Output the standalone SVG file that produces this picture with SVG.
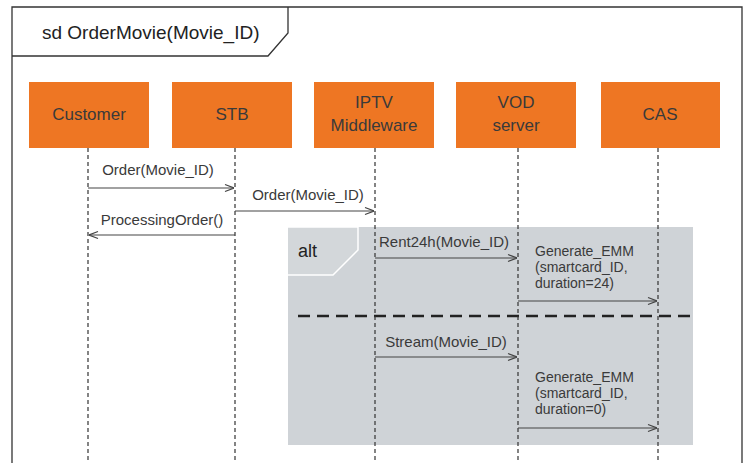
<svg xmlns="http://www.w3.org/2000/svg" width="749" height="463" viewBox="0 0 749 463">
  <defs>
    <style>
      .frame { fill: none; stroke: #333; stroke-width: 1.3; }
      .actor rect { fill: #ee7623; }
      .actor text { font-family: "Liberation Sans", Arial, sans-serif; font-size: 17px; fill: #3a3a3a; text-anchor: middle; }
      .life { stroke: #333; stroke-width: 1.2; stroke-dasharray: 4 3; fill: none; }
      .msg { stroke: #444; stroke-width: 1.2; fill: none; marker-end: url(#arrow); }
      .lbl { font-family: "Liberation Sans", Arial, sans-serif; font-size: 15px; fill: #3a3a3a; }
      .note { font-family: "Liberation Sans", Arial, sans-serif; font-size: 14px; fill: #3a3a3a; }
      .mid { text-anchor: middle; }
    </style>
    <marker id="arrow" viewBox="0 0 10 10" refX="10" refY="5" markerWidth="10" markerHeight="10" markerUnits="userSpaceOnUse" orient="auto">
      <path d="M1,1.5 L10,5 L1,8.5" fill="none" stroke="#444" stroke-width="1.2"/>
    </marker>
  </defs>

  <rect width="749" height="463" fill="#fff"/>

  <!-- sequence frame -->
  <g id="frame">
    <path class="frame" d="M12,470 L12,7 L742,7 L742,470"/>
    <path class="frame" d="M12,56 L268,56 L288,33 L288,7"/>
    <text x="42" y="39" font-family="Liberation Sans, Arial, sans-serif" font-size="19" fill="#222">sd OrderMovie(Movie_ID)</text>
  </g>

  <!-- alt fragment -->
  <g id="alt">
    <rect x="288" y="227" width="405" height="218" fill="#cfd3d7"/>
    <path d="M288,227 L358,227 L358,250 L333,275 L288,275" fill="#d3d7da" stroke="#fff" stroke-width="1.5"/>
    <text x="298" y="257" font-family="Liberation Sans, Arial, sans-serif" font-size="18" fill="#222">alt</text>
    <line x1="298" y1="316" x2="693" y2="316" stroke="#222" stroke-width="2.5" stroke-dasharray="12 7"/>
  </g>

  <!-- lifelines -->
  <g id="lifelines">
    <line class="life" x1="88" y1="148" x2="88" y2="463"/>
    <line class="life" x1="235" y1="148" x2="235" y2="463"/>
    <line class="life" x1="375" y1="148" x2="375" y2="463"/>
    <line class="life" x1="518" y1="148" x2="518" y2="463"/>
    <line class="life" x1="658" y1="148" x2="658" y2="463"/>
  </g>

  <!-- participants -->
  <g id="customer" class="actor">
    <rect x="29" y="82" width="120" height="66"/>
    <text x="89" y="120">Customer</text>
  </g>
  <g id="stb" class="actor">
    <rect x="172" y="82" width="120" height="66"/>
    <text x="232" y="120">STB</text>
  </g>
  <g id="iptv" class="actor">
    <rect x="314" y="82" width="120" height="66"/>
    <text x="374" y="108">IPTV</text>
    <text x="374" y="131">Middleware</text>
  </g>
  <g id="vod" class="actor">
    <rect x="456" y="82" width="120" height="66"/>
    <text x="516" y="108">VOD</text>
    <text x="516" y="131">server</text>
  </g>
  <g id="cas" class="actor">
    <rect x="601" y="82" width="119" height="66"/>
    <text x="660" y="120">CAS</text>
  </g>

  <!-- messages -->
  <g id="messages">
    <line class="msg" x1="88" y1="188" x2="234" y2="188"/>
    <text class="lbl mid" x="158" y="175">Order(Movie_ID)</text>

    <line class="msg" x1="235" y1="211" x2="374" y2="211"/>
    <text class="lbl mid" x="308" y="200">Order(Movie_ID)</text>

    <line class="msg" x1="235" y1="235" x2="89" y2="235"/>
    <text class="lbl mid" x="162" y="225">ProcessingOrder()</text>

    <line class="msg" x1="375" y1="258" x2="517" y2="258"/>
    <text class="lbl mid" x="444" y="247">Rent24h(Movie_ID)</text>

    <line class="msg" x1="518" y1="301" x2="657" y2="301"/>
    <text class="note" x="535" y="256">Generate_EMM</text>
    <text class="note" x="535" y="272">(smartcard_ID,</text>
    <text class="note" x="535" y="288">duration=24)</text>

    <line class="msg" x1="375" y1="357" x2="517" y2="357"/>
    <text class="lbl mid" x="446" y="347">Stream(Movie_ID)</text>

    <line class="msg" x1="518" y1="428" x2="657" y2="428"/>
    <text class="note" x="535" y="382">Generate_EMM</text>
    <text class="note" x="535" y="398">(smartcard_ID,</text>
    <text class="note" x="535" y="414">duration=0)</text>
  </g>
</svg>
